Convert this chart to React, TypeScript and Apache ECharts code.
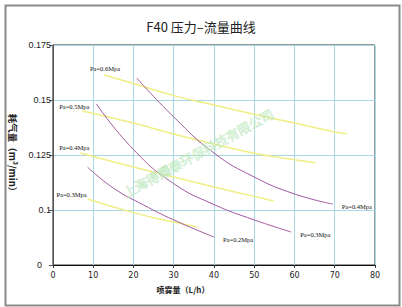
import React, { useEffect, useRef } from "react";
import * as echarts from "echarts";

const xTicks = [0, 10, 20, 30, 40, 50, 60, 70, 80];
const yTickValues = [0.075, 0.1, 0.125, 0.15, 0.175];

const yellowNames = ["Pa=0.6Mpa", "Pa=0.5Mpa", "Pa=0.4Mpa", "Pa=0.3Mpa"];
const y06 = [[12.7, 0.1614], [20, 0.1575], [30, 0.152], [40, 0.1477], [50, 0.1435], [60, 0.1395], [70, 0.1355], [73, 0.1347]];
const y05 = [[7.3, 0.145], [20, 0.1395], [30, 0.1345], [40, 0.13], [50, 0.1258], [60, 0.1228], [65.3, 0.1214]];
const y04 = [[6.8, 0.1259], [20, 0.1195], [30, 0.115], [40, 0.1105], [50, 0.1062], [54.8, 0.1041]];
const y03 = [[8.6, 0.105], [20, 0.0988], [30, 0.0945], [35.9, 0.0923]];

const purpleNames = ["Pa=0.4Mpa", "Pa=0.3Mpa", "Pa=0.2Mpa"];
const p04 = [[20.8, 0.16], [30, 0.1423], [40, 0.1259], [50, 0.115], [60, 0.1073], [69.5, 0.1027]];
const p03 = [[10.8, 0.1482], [20, 0.1275], [30, 0.112], [40, 0.1025], [50, 0.0955], [59.2, 0.09]];
const p02 = [[8.6, 0.1195], [15, 0.11], [22.5, 0.1023], [30, 0.0955], [40, 0.0877]];

const title = "F40 压力–流量曲线";
const xName = "喷雾量（L/h）";
const yName = "耗气量（m³/min）";
const watermark = "上海得耀泰环保科技有限公司";

const yellowLabelOffsets = [[1, 0], [-8, 1], [-6, 0], [-16, 1]];

export default function App() {
  const ref = useRef<HTMLDivElement>(null);
  useEffect(() => {
    if (!ref.current) return;
    const chart = echarts.init(ref.current, null, { renderer: "svg" });
    const labelFont = { fontFamily: "Liberation Serif", fontSize: 6.5, color: "#111" };
    const yellowSeries = [y06, y05, y04, y03].map((d, i) => ({
      type: "line",
      name: yellowNames[i],
      smooth: true,
      symbol: "circle",
      symbolSize: 1,
      showSymbol: true,
      itemStyle: { color: "rgba(0,0,0,0)" },
      lineStyle: { color: "#f0ee84", width: 1.5 },
      data: d.map((p, j) =>
        j === 0
          ? {
              value: p,
              label: {
                show: true,
                formatter: yellowNames[i],
                position: "top",
                distance: 2,
                offset: yellowLabelOffsets[i],
                ...labelFont,
              },
            }
          : { value: p }
      ),
      z: 2,
    }));
    const purpleSeries = [p04, p03, p02].map((d, i) => ({
      type: "line",
      name: purpleNames[i],
      smooth: true,
      symbol: "none",
      lineStyle: { color: "#a3589f", width: 1 },
      data: d,
      endLabel: { show: true, formatter: purpleNames[i], offset: [1, 2], ...labelFont },
      z: 3,
    }));
    chart.setOption({
      animation: false,
      backgroundColor: "#fff",
      title: {
        text: title,
        left: "center",
        top: 15,
        textStyle: { fontSize: 13, fontWeight: "normal", color: "#222", fontFamily: "Noto Sans CJK SC" },
      },
      grid: { left: 48, right: 27, top: 45, bottom: 42, show: true, borderColor: "#333", borderWidth: 1 },
      xAxis: {
        type: "value",
        min: xTicks[0],
        max: xTicks[xTicks.length - 1],
        interval: 10,
        name: xName,
        nameLocation: "middle",
        nameGap: 20,
        nameTextStyle: { fontSize: 8, fontWeight: "bold", color: "#222", padding: [0, 62, 0, 0], fontFamily: "Noto Sans CJK SC" },
        axisLine: { lineStyle: { color: "#111", width: 1 } },
        axisTick: { show: true, length: 3, lineStyle: { color: "#333" } },
        axisLabel: { fontSize: 8, color: "#222", margin: 6, fontFamily: "DejaVu Sans" },
        splitLine: { show: true, lineStyle: { color: "#a8d8e4", width: 1 } },
      },
      yAxis: {
        type: "value",
        min: yTickValues[0],
        max: yTickValues[yTickValues.length - 1],
        interval: 0.025,
        name: yName,
        nameLocation: "middle",
        nameRotate: -90,
        nameGap: 29,
        nameTextStyle: { fontSize: 9.5, fontWeight: "bold", color: "#222", fontFamily: "Noto Sans CJK SC" },
        axisLine: { show: true, lineStyle: { color: "#555", width: 1 } },
        axisTick: { show: true, length: 4, lineStyle: { color: "#555" } },
        axisLabel: {
          fontSize: 9,
          color: "#222",
          margin: 2,
          fontFamily: "Liberation Sans",
          formatter: (v: number) => {
            const r = parseFloat(v.toFixed(3));
            return r === yTickValues[0] ? "{z|0}" : String(r);
          },
          rich: { z: { fontSize: 9, color: "#222", padding: [0, 9, 0, 0], fontFamily: "Liberation Sans" } },
        },
        splitLine: { show: true, lineStyle: { color: "#a8d8e4", width: 1 } },
      },
      graphic: [
        {
          type: "rect",
          left: 3,
          top: 3,
          shape: { width: 394, height: 300 },
          style: { fill: "none", stroke: "#8a8a8a", lineWidth: 2 },
          z: 0,
        },
        {
          type: "text",
          x: 198,
          y: 153,
          rotation: 0.5,
          style: {
            text: watermark,
            fontSize: 13,
            fontFamily: "Noto Sans CJK SC",
            fontWeight: "normal",
            fill: "rgba(255,255,255,0)",
            stroke: "#bde8bd",
            lineWidth: 0.5,
            align: "center",
            verticalAlign: "middle",
          },
          z: 10,
        },
      ],
      series: [...yellowSeries, ...purpleSeries],
    });
    return () => chart.dispose();
  }, []);
  return <div ref={ref} style={{ position: "absolute", left: 0, top: 0, width: 402, height: 307 }} />;
}
